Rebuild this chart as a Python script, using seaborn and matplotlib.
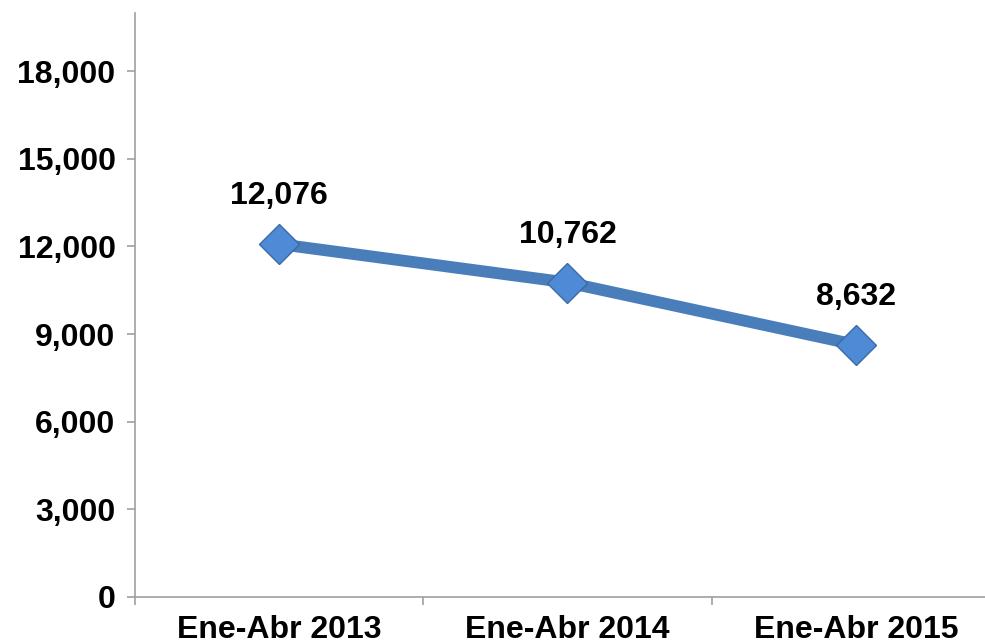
import matplotlib
matplotlib.use("Agg")
import matplotlib.pyplot as plt
import seaborn as sns
import pandas as pd
from matplotlib.ticker import FuncFormatter

# -----------------------------
# Data
# -----------------------------
periods = ["Ene-Abr 2013", "Ene-Abr 2014", "Ene-Abr 2015"]
values = [12076, 10762, 8632]
y_ticks = [0, 3000, 6000, 9000, 12000, 15000, 18000]

df = pd.DataFrame({"periodo": periods, "valor": values})

# -----------------------------
# Style
# -----------------------------
sns.set_style("white")
plt.rcParams["font.family"] = ["Liberation Sans", "DejaVu Sans"]
plt.rcParams["font.weight"] = "bold"

LINE_COLOR = "#4a7ebb"
AXIS_COLOR = "#a0a0a0"

fig = plt.figure(figsize=(9.85, 6.44), dpi=100)
ax = fig.add_axes([135 / 985, 47 / 644, 865 / 985, 584.4 / 644])

sns.lineplot(
    data=df, x="periodo", y="valor", ax=ax,
    color=LINE_COLOR, linewidth=8.5,
    marker="D", markersize=20,
    markerfacecolor="#4f8ad6", markeredgecolor="#3a6aa8", markeredgewidth=1,
    solid_capstyle="round",
)

# data labels
for i, v in enumerate(values):
    ax.annotate(f"{v:,}", (i, v), xytext=(0, 34.5), textcoords="offset points",
                ha="center", va="center", fontsize=23, fontweight="bold", color="black")

ax.set_xlim(-0.5, 2.5)
ax.set_ylim(0, 20000)
ax.set_yticks(y_ticks)
ax.yaxis.set_major_formatter(FuncFormatter(lambda v, _: f"{int(v):,}"))
ax.set_xticks(range(len(periods)))
ax.set_xticklabels(periods)
ax.set_xticks([-0.5, 0.5, 1.5, 2.5], minor=True)

ax.tick_params(axis="y", which="major", direction="out", length=6, width=1.2,
               color=AXIS_COLOR, labelcolor="black", labelsize=23, pad=8, left=True)
ax.tick_params(axis="x", which="major", length=0, labelsize=23, labelcolor="black", pad=13)
ax.tick_params(axis="x", which="minor", direction="out", length=6, width=1.2,
               color=AXIS_COLOR, bottom=True)
for lbl in ax.get_xticklabels() + ax.get_yticklabels():
    lbl.set_fontweight("bold")

ax.set_xlabel("")
ax.set_ylabel("")
for side in ["top", "right"]:
    ax.spines[side].set_visible(False)
for side in ["left", "bottom"]:
    ax.spines[side].set_color(AXIS_COLOR)
    ax.spines[side].set_linewidth(1.2)

fig.savefig("out.png", dpi=100)
